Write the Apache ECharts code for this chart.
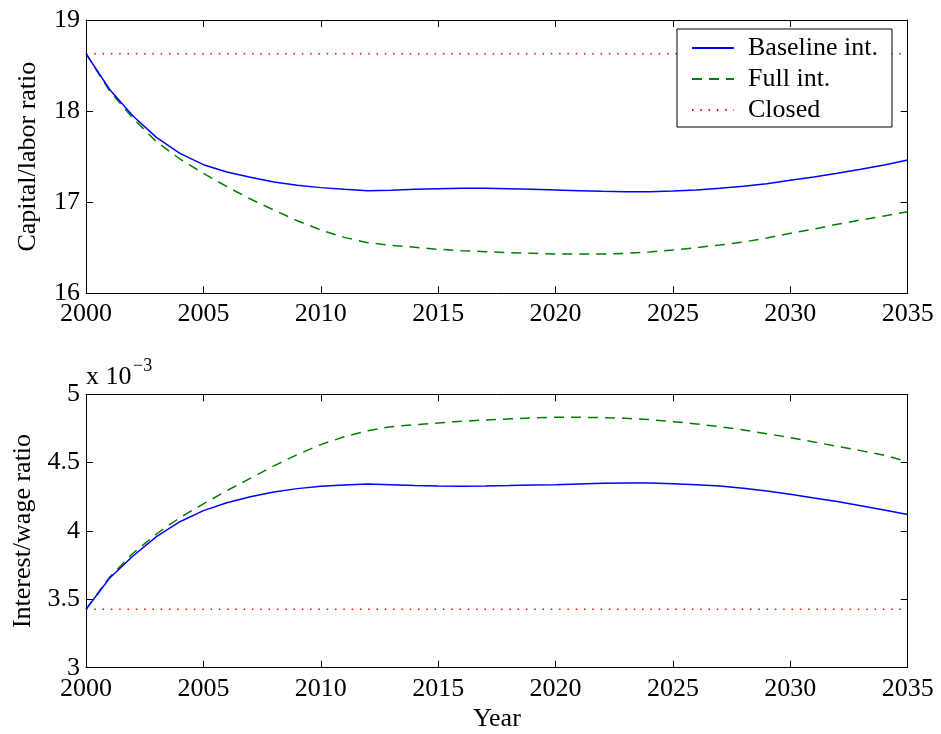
<!DOCTYPE html>
<html><head><meta charset="utf-8">
<script src="https://cdn.jsdelivr.net/npm/echarts@6/dist/echarts.min.js"></script>
<style>html,body{margin:0;padding:0;background:#fff}#c{width:941px;height:734px}</style>
</head><body><div id="c"></div>
<script>
// ---- data ----
const years = [2000,2001,2002,2003,2004,2005,2006,2007,2008,2009,2010,2011,2012,2013,2014,2015,2016,2017,
               2018,2019,2020,2021,2022,2023,2024,2025,2026,2027,2028,2029,2030,2031,2032,2033,2034,2035];
const seriesNames = ['Baseline int.', 'Full int.', 'Closed'];

// Capital/labor ratio
const kBaseline = [18.63,18.24,17.946,17.712,17.536,17.412,17.331,17.273,17.222,17.185,17.160,17.141,17.127,17.130,17.141,17.149,17.152,
                   17.152,17.149,17.141,17.134,17.127,17.119,17.116,17.116,17.123,17.134,17.152,17.174,17.203,17.240,17.277,17.317,17.361,17.408,17.463];
const kFull = [18.63,18.224,17.921,17.664,17.474,17.317,17.171,17.035,16.914,16.797,16.695,16.614,16.556,16.527,16.505,16.483,16.468,
               16.457,16.446,16.439,16.431,16.431,16.431,16.439,16.453,16.475,16.501,16.530,16.563,16.607,16.658,16.706,16.757,16.805,16.849,16.896];
const kClosed = 18.63;

// Interest/wage ratio (x 10^-3)
const rBaseline = [3.427,3.654,3.817,3.959,4.068,4.149,4.207,4.251,4.285,4.310,4.327,4.337,4.344,4.339,4.332,4.329,4.327,
                   4.329,4.332,4.337,4.339,4.344,4.349,4.351,4.351,4.346,4.339,4.329,4.312,4.293,4.268,4.241,4.215,4.185,4.154,4.120];
const rFull = [3.427,3.661,3.837,3.978,4.098,4.198,4.295,4.385,4.476,4.559,4.632,4.690,4.734,4.763,4.778,4.790,4.802,
               4.812,4.820,4.827,4.832,4.832,4.829,4.824,4.815,4.800,4.783,4.763,4.739,4.712,4.683,4.651,4.620,4.588,4.554,4.507];
const rClosed = 3.427;

const xRange = [2000, 2035, 5];
const kRange = [16, 19, 1];
const rRange = [3, 5, 0.5];

// ---- chart ----
const FONT = '"Liberation Serif", "DejaVu Serif", serif';
const pair = (vals) => years.map((y, i) => [y, vals[i]]);
const flat = (v) => years.map(y => [y, v]);

function xAx(grid, pos, labels, name) {
  return {
    type: 'value', gridIndex: grid, position: pos,
    min: xRange[0], max: xRange[1], interval: xRange[2],
    axisLine: {show: true, onZero: false, lineStyle: {color: '#000', width: 1}},
    axisTick: {show: true, inside: true, length: 7, lineStyle: {color: '#000'}},
    splitLine: {show: false},
    axisLabel: {show: labels, color: '#000', fontFamily: FONT, fontSize: 26, margin: 8,
                formatter: (v) => String(v),
                showMinLabel: true, showMaxLabel: true, hideOverlap: false},
    name: name || '', nameLocation: 'middle', nameGap: 38,
    nameTextStyle: {color: '#000', fontFamily: FONT, fontSize: 26}
  };
}
function yAx(grid, pos, range, labels, name, gap) {
  return {
    type: 'value', gridIndex: grid, position: pos,
    min: range[0], max: range[1], interval: range[2],
    axisLine: {show: true, onZero: false, lineStyle: {color: '#000', width: 1}},
    axisTick: {show: true, inside: true, length: 7, lineStyle: {color: '#000'}},
    splitLine: {show: false},
    axisLabel: {show: labels, color: '#000', fontFamily: FONT, fontSize: 26, margin: 6,
                showMinLabel: true, showMaxLabel: true, hideOverlap: false},
    name: name || '', nameLocation: 'middle', nameGap: gap || 40,
    nameTextStyle: {color: '#000', fontFamily: FONT, fontSize: 26}
  };
}
const styles = [
  {color: '#0000ff', lineStyle: {color: '#0000ff', width: 1.5, type: 'solid'}},
  {color: '#008000', lineStyle: {color: '#008000', width: 1.5, type: [10, 7]}},
  {color: '#ff0000', lineStyle: {color: '#ff0000', width: 1.5, type: [1.5, 6.8]}}
];
function ser(i, data, grid) {
  return {
    name: seriesNames[i], type: 'line', data: data,
    xAxisIndex: grid * 2, yAxisIndex: grid * 2,
    symbol: 'none', smooth: false, animation: false,
    itemStyle: {color: styles[i].color}, lineStyle: styles[i].lineStyle,
    z: 3 - i
  };
}

const chart = echarts.init(document.getElementById('c'), null, {renderer: 'canvas'});
chart.setOption({
  backgroundColor: '#fff',
  animation: false,
  grid: [
    {left: 86, top: 20, width: 821.7, height: 273.3},
    {left: 86, top: 394.3, width: 821.7, height: 273.4}
  ],
  xAxis: [
    xAx(0, 'bottom', true), xAx(0, 'top', false),
    xAx(1, 'bottom', true, 'Year'), xAx(1, 'top', false)
  ],
  yAxis: [
    yAx(0, 'left', kRange, true, 'Capital/labor ratio', 45), yAx(0, 'right', kRange, false),
    yAx(1, 'left', rRange, true, 'Interest/wage ratio', 47), yAx(1, 'right', rRange, false)
  ],
  legend: {
    data: seriesNames, orient: 'vertical', left: 677, top: 29,
    backgroundColor: '#fff', borderColor: '#000', borderWidth: 1, borderRadius: 0,
    padding: [6, 14, 4, 14], itemGap: 5, itemWidth: 42, itemHeight: 14,
    itemStyle: {opacity: 0, borderWidth: 0},
    textStyle: {color: '#000', fontFamily: FONT, fontSize: 26, lineHeight: 26, padding: [0, 0, 0, 9]},
    selectedMode: false
  },
  graphic: [
    {type: 'text', x: 86, y: 377, style: {text: 'x 10', font: '26px ' + FONT, fill: '#000', align: 'left', verticalAlign: 'middle'}},
    {type: 'text', x: 133, y: 366, style: {text: '\u22123', font: '18px ' + FONT, fill: '#000', align: 'left', verticalAlign: 'middle'}}
  ],
  series: [
    ser(0, pair(kBaseline), 0), ser(1, pair(kFull), 0), ser(2, flat(kClosed), 0),
    ser(0, pair(rBaseline), 1), ser(1, pair(rFull), 1), ser(2, flat(rClosed), 1)
  ]
});
</script></body></html>
